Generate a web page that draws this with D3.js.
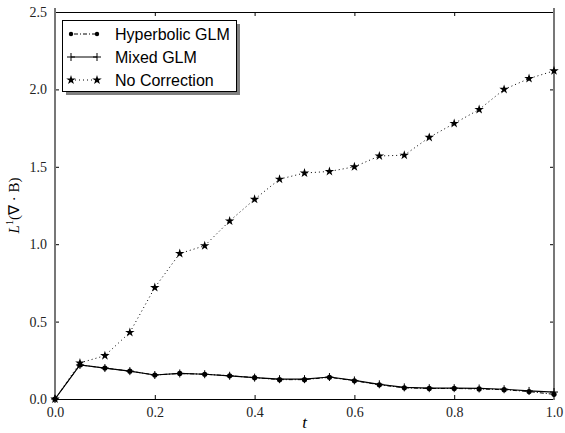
<!DOCTYPE html>
<html><head><meta charset="utf-8">
<script src="https://cdn.jsdelivr.net/npm/d3@7"></script>
</head><body style="margin:0">
<script>
const tValues = [0,0.05,0.1,0.15,0.2,0.25,0.3,0.35,0.4,0.45,0.5,0.55,0.6,0.65,0.7,0.75,0.8,0.85,0.9,0.95,1.0];
const hyperbolic = [0,0.22,0.20,0.18,0.155,0.165,0.16,0.15,0.138,0.125,0.125,0.14,0.118,0.092,0.072,0.068,0.068,0.065,0.06,0.048,0.03];
const mixed = [0,0.22,0.20,0.18,0.155,0.165,0.16,0.15,0.138,0.128,0.128,0.142,0.12,0.095,0.075,0.07,0.07,0.068,0.063,0.052,0.045];
const noCorrection = [0,0.233,0.28,0.43,0.72,0.94,0.99,1.15,1.29,1.42,1.46,1.47,1.50,1.57,1.575,1.69,1.78,1.87,2.00,2.07,2.12];
const xTicks = [0,0.2,0.4,0.6,0.8,1.0];
const yTicks = [0,0.5,1.0,1.5,2.0,2.5];
const seriesNames = ["Hyperbolic GLM","Mixed GLM","No Correction"];

const W=565,H=433;
const m={l:55,r:11,t:12,b:34};
const svg=d3.select("body").append("svg").attr("width",W).attr("height",H).style("display","block");
const x=d3.scaleLinear().domain([0,1]).range([m.l,W-m.r]);
const y=d3.scaleLinear().domain([0,2.5]).range([H-m.b,m.t]);
const SERIF="Liberation Serif";
const SANS="Liberation Sans";

// axes
const gx=svg.append("g").attr("transform",`translate(0,${y(0)})`)
  .call(d3.axisBottom(x).tickValues(xTicks).tickFormat(d3.format(".1f")).tickSizeInner(-4).tickSizeOuter(0).tickPadding(8));
const gxt=svg.append("g").attr("transform",`translate(0,${y(2.5)})`)
  .call(d3.axisTop(x).tickValues(xTicks).tickFormat("").tickSizeInner(-4).tickSizeOuter(0));
const gy=svg.append("g").attr("transform",`translate(${x(0)},0)`)
  .call(d3.axisLeft(y).tickValues(yTicks).tickFormat(d3.format(".1f")).tickSizeInner(-4).tickSizeOuter(0).tickPadding(8));
const gyr=svg.append("g").attr("transform",`translate(${x(1)},0)`)
  .call(d3.axisRight(y).tickValues(yTicks).tickFormat("").tickSizeInner(-4).tickSizeOuter(0));
[gx,gxt,gy,gyr].forEach(g=>{g.attr("font-family",SERIF).attr("font-size",14);
  g.selectAll("text").attr("font-family",SERIF).style("font-family",SERIF).attr("font-size",14).attr("fill","#222");
  g.selectAll(".tick line").attr("stroke","#000");});
gx.select(".domain").attr("stroke","#000").attr("stroke-width",1.2);
gxt.select(".domain").attr("stroke","#000").attr("stroke-width",1.2);
gy.select(".domain").remove(); gyr.select(".domain").remove();
// side spines (grey, extend above top)
[x(0),x(1)].forEach(px=>svg.append("line").attr("x1",px).attr("x2",px).attr("y1",y(2.5)-4).attr("y2",y(0)+1)
  .attr("stroke","#777").attr("stroke-width",2));

// lines
const line=(vals)=>d3.line().x((d,i)=>x(tValues[i])).y(d=>y(d))(vals);
svg.append("path").attr("d",line(noCorrection)).attr("fill","none").attr("stroke","#000").attr("stroke-width",1).attr("stroke-dasharray","1,3");
svg.append("path").attr("d",line(hyperbolic)).attr("fill","none").attr("stroke","#000").attr("stroke-width",1).attr("stroke-dasharray","4,2,1,2");
svg.append("path").attr("d",line(mixed)).attr("fill","none").attr("stroke","#000").attr("stroke-width",1.2);

const star=d3.symbol().type(d3.symbolStar).size(28);
const plus=(g,cx,cy)=>{g.append("line").attr("x1",cx-4).attr("x2",cx+4).attr("y1",cy).attr("y2",cy).attr("stroke","#000");
  g.append("line").attr("x1",cx).attr("x2",cx).attr("y1",cy-4).attr("y2",cy+4).attr("stroke","#000");};
const mk=svg.append("g");
hyperbolic.forEach((v,i)=>mk.append("circle").attr("cx",x(tValues[i])).attr("cy",y(v)).attr("r",2.6).attr("fill","#000"));
mixed.forEach((v,i)=>plus(mk,x(tValues[i]),y(v)));
noCorrection.forEach((v,i)=>mk.append("path").attr("d",star()).attr("transform",`translate(${x(tValues[i])},${y(v)})`).attr("fill","#000"));

// axis labels
svg.append("text").attr("x",(x(0)+x(1))/2).attr("y",428).attr("text-anchor","middle").attr("font-family",SERIF).style("font-family",SERIF).attr("font-style","italic").attr("font-size",17).text("t");
const yl=svg.append("text").attr("transform",`translate(19,${y(1.25)}) rotate(-90)`).attr("text-anchor","middle").attr("font-family",SERIF).style("font-family",SERIF).attr("font-size",15);
yl.append("tspan").attr("font-style","italic").text("L");
yl.append("tspan").attr("font-size",10).attr("dy",-6).text("1");
yl.append("tspan").attr("dy",6).text("(∇ · B)");

// legend
const lg=svg.append("g");
lg.append("rect").attr("x",66).attr("y",24).attr("width",174).attr("height",71).attr("fill","#808080");
lg.append("rect").attr("x",62.5).attr("y",20.5).attr("width",174).attr("height",71).attr("fill","#fff").attr("stroke","#000");
const rows=[34,57,80];
rows.forEach((ry,k)=>{
  const lx1=71,lx2=97;
  const ln=lg.append("line").attr("x1",lx1).attr("x2",lx2).attr("y1",ry).attr("y2",ry).attr("stroke","#000");
  if(k===0){ln.attr("stroke-dasharray","4,2,1,2").attr("stroke-dashoffset",-3);
    [lx1,lx2].forEach(px=>lg.append("circle").attr("cx",px).attr("cy",ry).attr("r",2.2).attr("fill","#000"));}
  if(k===1){[lx1,lx2].forEach(px=>plus(lg,px,ry));}
  if(k===2){ln.attr("stroke-dasharray","1,3");
    [lx1,lx2].forEach(px=>lg.append("path").attr("d",star()).attr("transform",`translate(${px},${ry})`).attr("fill","#000"));}
  lg.append("text").attr("x",115).attr("y",ry+6).attr("font-family",SANS).attr("font-size",16).text(seriesNames[k]);
});
</script>
</body></html>
